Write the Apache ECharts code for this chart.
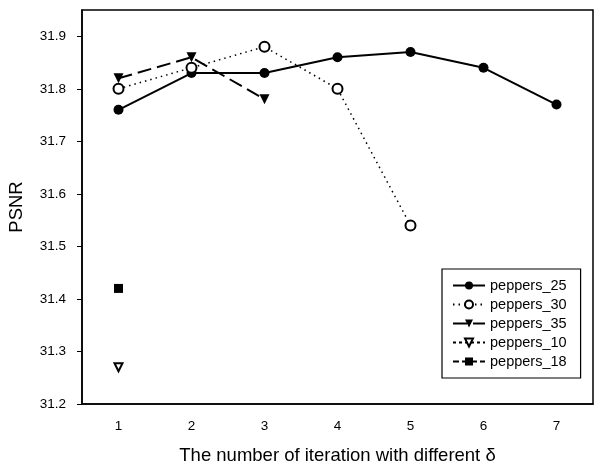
<!DOCTYPE html>
<html>
<head>
<meta charset="utf-8">
<script src="https://cdn.jsdelivr.net/npm/echarts@6/dist/echarts.min.js"></script>
<style>
  html, body { margin: 0; padding: 0; background: #fff; }
  #chart { width: 595px; height: 469px; }
</style>
</head>
<body>
<div id="chart"></div>
<script>
// iteration index on the x axis
var iterations = ['1', '2', '3', '4', '5', '6', '7'];
var yTicks = [31.2, 31.3, 31.4, 31.5, 31.6, 31.7, 31.8, 31.9];

// PSNR per iteration
var peppers25 = [31.76, 31.83, 31.83, 31.86, 31.87, 31.84, 31.77];
var peppers30 = [31.80, 31.84, 31.88, 31.80, 31.54];
var peppers35 = [31.82, 31.86, 31.78];
var peppers10 = [31.27];
var peppers18 = [31.42];

var font = 'Liberation Sans, Arial, sans-serif';

var myChart = echarts.init(document.getElementById('chart'));

var option = {
    backgroundColor: '#fff',
    animation: false,
    textStyle: { fontFamily: font, color: '#000' },
    grid: {
        left: 82, right: 2, top: 10, bottom: 65,
        outerBoundsMode: 'none',
        containLabel: false,
        show: true, borderColor: '#000', borderWidth: 1.5
    },
    legend: {
        orient: 'vertical',
        left: 442, top: 269,
        padding: [9, 14, 9, 10],
        itemGap: 4,
        itemWidth: 32, itemHeight: 10,
        borderColor: '#000', borderWidth: 1.2,
        backgroundColor: '#fff',
        textStyle: { fontFamily: font, fontSize: 14.5, color: '#000' },
        data: ['peppers_25', 'peppers_30', 'peppers_35', 'peppers_10', 'peppers_18']
    },
    xAxis: {
        type: 'category',
        data: iterations,
        boundaryGap: true,
        name: 'The number of iteration with different δ',
        nameLocation: 'middle',
        nameGap: 42,
        nameTextStyle: { fontFamily: font, fontSize: 18.5, color: '#000' },
        axisLine: { lineStyle: { color: '#000', width: 1.5 } },
        axisTick: { alignWithLabel: true, length: 4, lineStyle: { color: '#000' } },
        axisLabel: { fontFamily: font, fontSize: 13.5, color: '#000', margin: 15 },
        splitLine: { show: false }
    },
    yAxis: {
        type: 'value',
        min: 31.2, max: 31.95,
        name: 'PSNR',
        nameLocation: 'middle',
        nameGap: 56,
        nameTextStyle: { fontFamily: font, fontSize: 18.5, color: '#000' },
        axisLine: { show: true, lineStyle: { color: '#000', width: 1.5 } },
        axisTick: { show: true, length: 5, customValues: yTicks, lineStyle: { color: '#000' } },
        axisLabel: {
            fontFamily: font, fontSize: 13.5, color: '#000', margin: 16,
            customValues: yTicks,
            formatter: function (v) { return v.toFixed(1); }
        },
        splitLine: { show: false }
    },
    series: [
        {
            name: 'peppers_25', type: 'line', data: peppers25,
            symbol: 'circle', symbolSize: 10,
            lineStyle: { color: '#000', width: 2, type: 'solid' },
            itemStyle: { color: '#000' }
        },
        {
            name: 'peppers_30', type: 'line', data: peppers30,
            symbol: 'emptyCircle', symbolSize: 10,
            lineStyle: { color: '#000', width: 1.5, type: [1.5, 4] },
            itemStyle: { color: '#000', borderWidth: 1.2 }
        },
        {
            name: 'peppers_35', type: 'line', data: peppers35,
            symbol: 'triangle', symbolRotate: 180, symbolSize: 10,
            lineStyle: { color: '#000', width: 2, type: [14, 6] },
            itemStyle: { color: '#000' }
        },
        {
            name: 'peppers_10', type: 'line', data: peppers10,
            symbol: 'emptyTriangle', symbolRotate: 180, symbolSize: 8,
            lineStyle: { color: '#000', width: 1, type: [3, 3] },
            itemStyle: { color: '#000', borderWidth: 1 }
        },
        {
            name: 'peppers_18', type: 'line', data: peppers18,
            symbol: 'rect', symbolSize: 9,
            lineStyle: { color: '#000', width: 1.5, type: [6, 3] },
            itemStyle: { color: '#000' }
        }
    ]
};

myChart.setOption(option);
</script>
</body>
</html>
